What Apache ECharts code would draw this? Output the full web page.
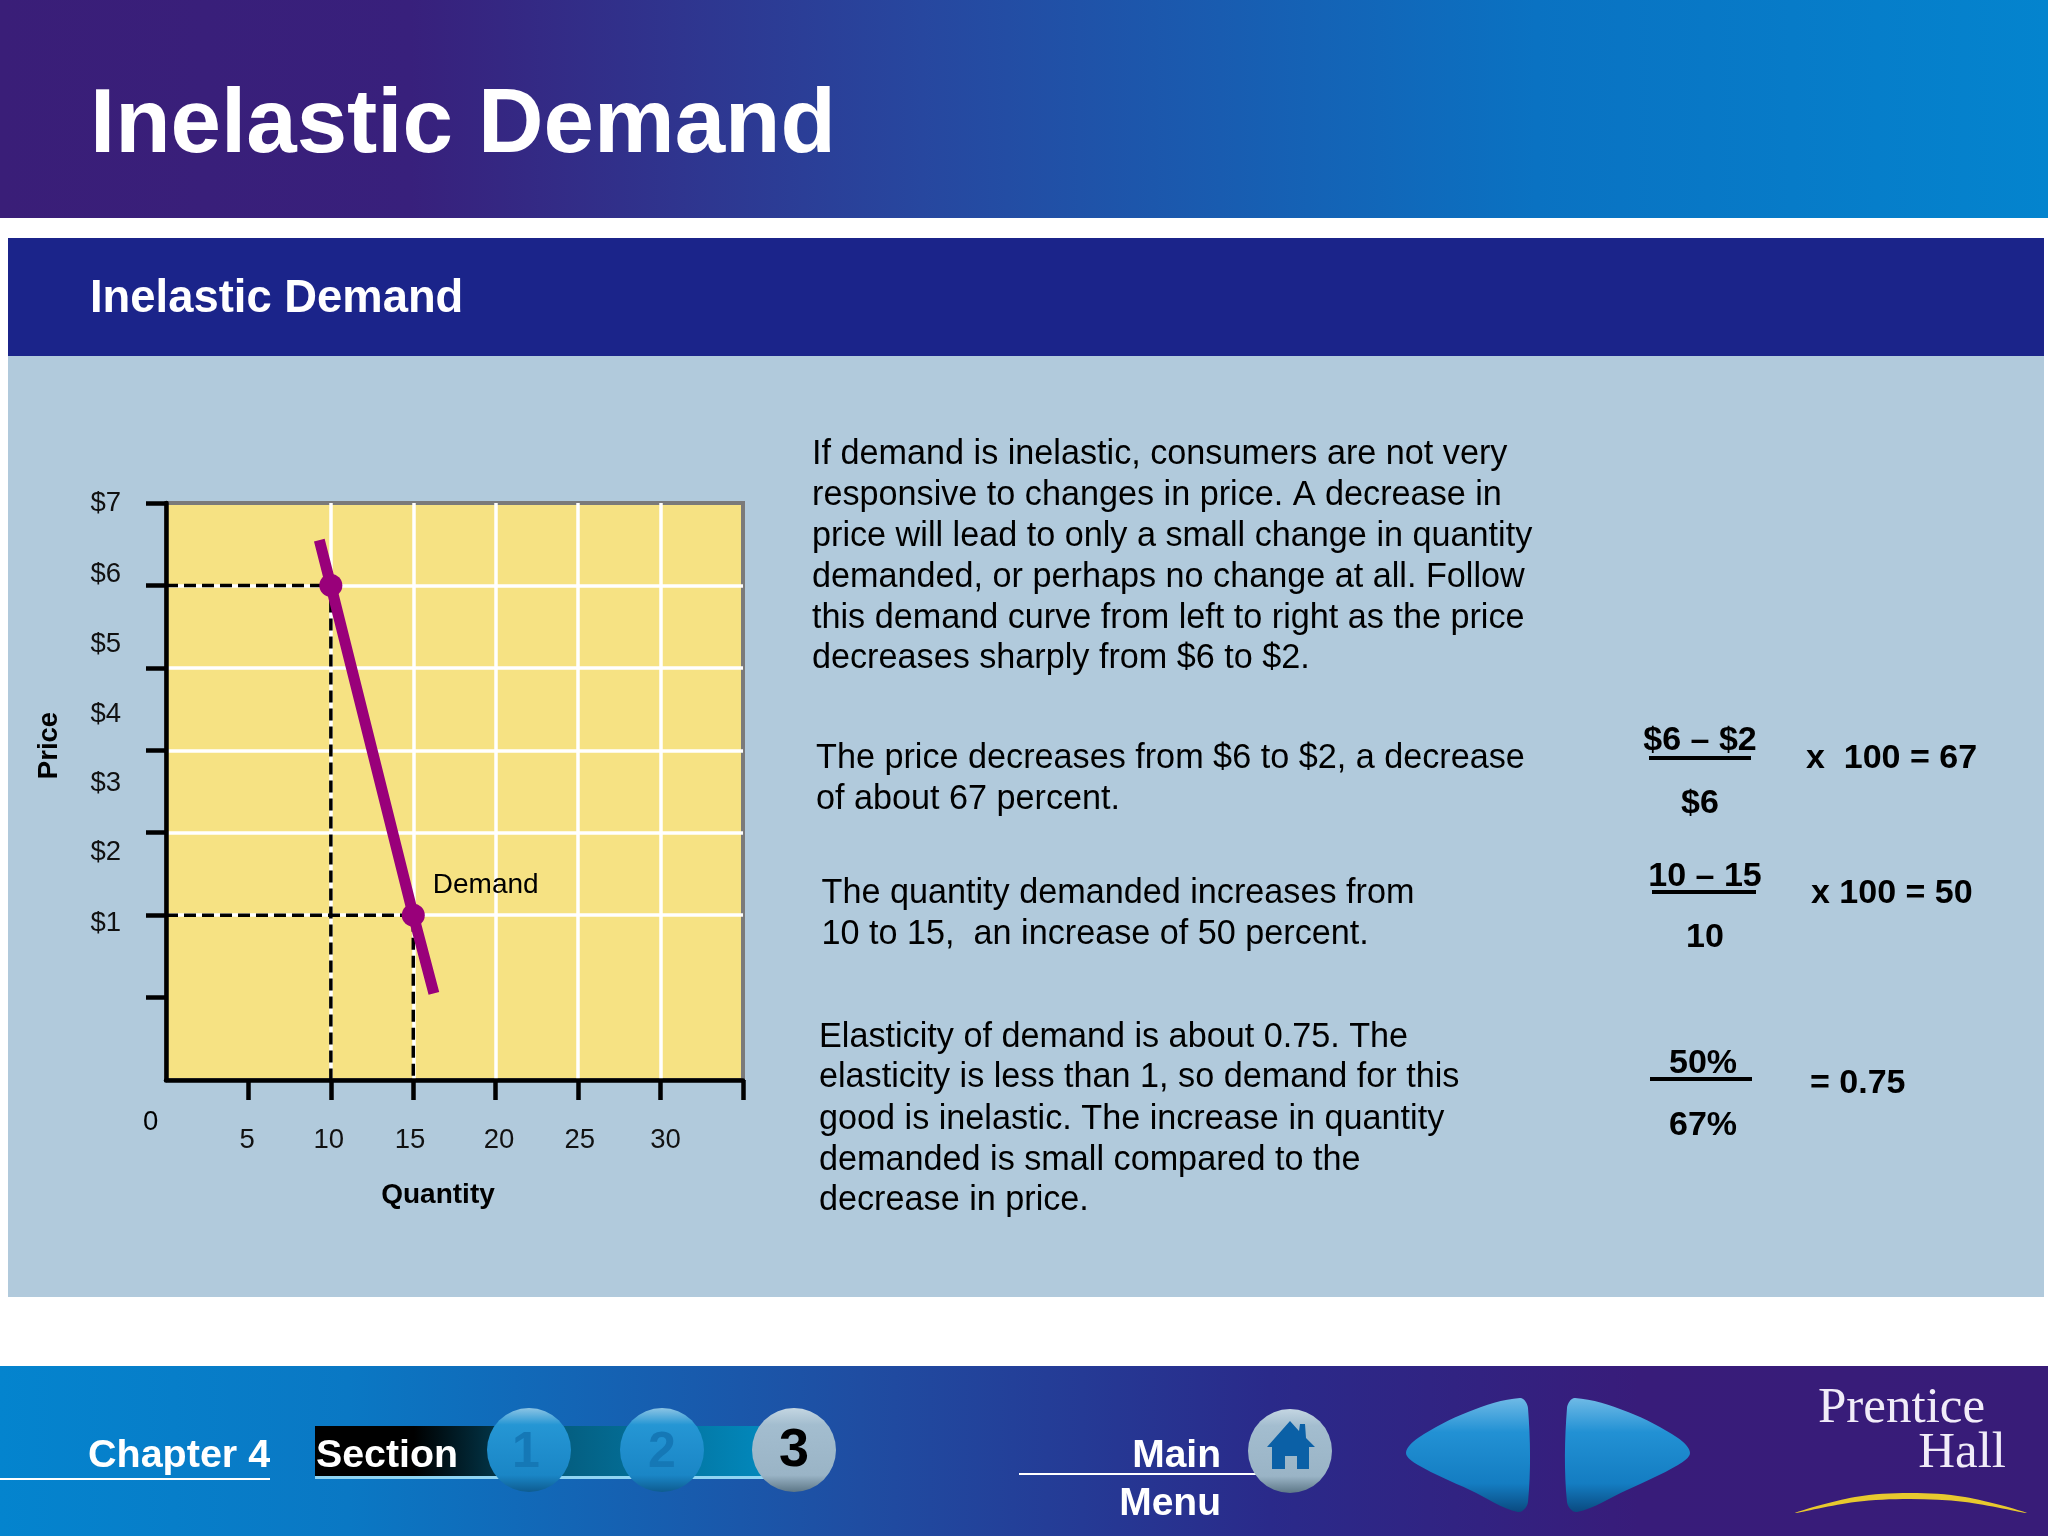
<!DOCTYPE html>
<html>
<head>
<meta charset="utf-8">
<title>Inelastic Demand</title>
<script src="https://cdn.jsdelivr.net/npm/echarts@6/dist/echarts.min.js"></script>
<style>
html, body { margin: 0; padding: 0; background: #fff; }
#chart { width: 2048px; height: 1536px; }
</style>
</head>
<body>
<div id="chart"></div>
<script>
// chart values
var demandCurve = [ [ 9.3, 6.55 ], [ 10, 6 ], [ 15, 2 ], [ 16.25, 1.05 ] ];
var demandPoints = [ [ 10, 6 ], [ 15, 2 ] ];
var guideHigh = [ [ 0, 6 ], [ 10, 6 ], [ 10, 0 ] ];
var guideLow = [ [ 0, 2 ], [ 15, 2 ], [ 15, 0 ] ];

// the printed tick labels do not sit on the grid lines in the slide
var priceLabels = [ '$7', '$6', '$5', '$4', '$3', '$2', '$1' ];
var priceLabelSpots = [ 7, 6.13, 5.28, 4.44, 3.6, 2.76, 1.9 ];
var quantityLabels = [ '5', '10', '15', '20', '25', '30' ];
var quantityLabelSpots = [ 4.92, 9.87, 14.8, 20.2, 25.1, 30.3 ];

// slide texts
var paragraphOne = [
	'If demand is inelastic, consumers are not very',
	'responsive to changes in price. A decrease in',
	'price will lead to only a small change in quantity',
	'demanded, or perhaps no change at all. Follow',
	'this demand curve from left to right as the price',
	'decreases sharply from $6 to $2.'
];
var paragraphTwo = [ 'The price decreases from $6 to $2, a decrease', 'of about 67 percent.' ];
var paragraphThree = [ 'The quantity demanded increases from', '10 to 15,  an increase of 50 percent.' ];
var paragraphFour = [
	'Elasticity of demand is about 0.75. The',
	'elasticity is less than 1, so demand for this',
	'good is inelastic. The increase in quantity',
	'demanded is small compared to the',
	'decrease in price.'
];

var sans = '"Liberation Sans", Arial, sans-serif';
var grad = echarts.graphic.LinearGradient;

function label(str, x, y, size, opt) {
	opt = opt || {};
	return {
		type : 'text',
		z : opt.z || 5,
		style : {
			text : str,
			x : x,
			y : y + 3,
			fill : opt.fill || '#000',
			font : (opt.bold ? 'bold ' : '') + size + 'px ' + (opt.family || sans),
			textAlign : opt.align || 'left',
			textVerticalAlign : 'middle'
		}
	};
}

function box(x, y, w, h, fill, z) {
	return {
		type : 'rect',
		z : z || -5,
		shape : { x : x, y : y, width : w, height : h },
		style : { fill : fill }
	};
}

function blob(points, fill) {
	return {
		type : 'polygon',
		z : 2,
		shape : { points : points, smooth : 0.35 },
		style : { fill : fill }
	};
}

function paragraph(lines, x, ys) {
	return lines.map(function(line, i) {
		return label(line, x, ys[i], 34.2);
	});
}

function button(cx, cy, light) {
	var stops = light ? [
		{ offset : 0, color : '#C4D6E2' },
		{ offset : 0.2, color : '#A3BDCF' },
		{ offset : 0.8, color : '#9AB4C6' },
		{ offset : 1, color : '#5D7787' }
	] : [
		{ offset : 0, color : '#8CC4E4' },
		{ offset : 0.2, color : '#2596D4' },
		{ offset : 0.8, color : '#1A86C6' },
		{ offset : 1, color : '#0E5C90' }
	];
	return {
		type : 'circle',
		z : 2,
		shape : { cx : cx, cy : cy, r : 42 },
		style : { fill : new grad(0, 0, 0, 1, stops) }
	};
}

var arrowFill = new grad(0, 0, 0, 1, [
	{ offset : 0, color : '#6FBAE6' },
	{ offset : 0.3, color : '#2291D4' },
	{ offset : 0.75, color : '#147DC2' },
	{ offset : 1, color : '#0A4A80' }
]);

var elements = [
	// banners and panel
	box(0, 0, 2048, 218, new grad(0, 0, 1, 0, [
		{ offset : 0, color : '#3A1E78' },
		{ offset : 0.2, color : '#38207C' },
		{ offset : 0.45, color : '#27479F' },
		{ offset : 0.75, color : '#0A72C2' },
		{ offset : 1, color : '#0484CE' }
	])),
	box(8, 238, 2036, 118, '#1B248A'),
	box(8, 356, 2036, 941, '#B1CADC'),
	box(0, 1366, 2048, 170, new grad(0, 0, 1, 0, [
		{ offset : 0, color : '#0484CE' },
		{ offset : 0.17, color : '#0A78C4' },
		{ offset : 0.42, color : '#1F4DA2' },
		{ offset : 0.62, color : '#2A2A8A' },
		{ offset : 0.8, color : '#381C7A' },
		{ offset : 1, color : '#381C78' }
	])),
	label('Inelastic Demand', 90, 124, 90.7, { bold : true, fill : '#fff' }),
	label('Inelastic Demand', 90, 296, 45.4, { bold : true, fill : '#fff' }),

	// chart extras
	label('0', 143, 1119, 27.5),

	// fractions
	label('$6 – $2', 1700, 738, 34, { bold : true, align : 'center' }),
	box(1649, 756, 102, 4, '#000', 5),
	label('$6', 1700, 801, 34, { bold : true, align : 'center' }),
	label('x  100 = 67', 1806, 756, 34, { bold : true }),
	label('10 – 15', 1705, 874, 34, { bold : true, align : 'center' }),
	box(1652, 890, 104, 4, '#000', 5),
	label('10', 1705, 935, 34, { bold : true, align : 'center' }),
	label('x 100 = 50', 1811, 891, 34, { bold : true }),
	label('50%', 1703, 1061, 34, { bold : true, align : 'center' }),
	box(1650, 1077, 102, 4, '#000', 5),
	label('67%', 1703, 1123, 34, { bold : true, align : 'center' }),
	label('= 0.75', 1810, 1081, 34, { bold : true }),

	// footer navigation
	label('Chapter 4', 88, 1453, 39.5, { bold : true, fill : '#fff' }),
	box(0, 1478, 270, 2, '#fff', 1),
	box(315, 1426, 449, 50, new grad(0, 0, 1, 0, [
		{ offset : 0, color : '#000' },
		{ offset : 0.22, color : '#000' },
		{ offset : 0.55, color : '#045E80' },
		{ offset : 1, color : '#0288BC' }
	]), 1),
	box(315, 1476, 449, 3, '#8FD4F2', 1),
	label('Section', 316, 1453, 39.3, { bold : true, fill : '#fff' }),
	button(529, 1450, false),
	label('1', 526, 1450, 50, { bold : true, fill : '#1578B6', align : 'center' }),
	button(662, 1450, false),
	label('2', 662, 1450, 50, { bold : true, fill : '#1578B6', align : 'center' }),
	button(794, 1450, true),
	label('3', 794, 1448, 54, { bold : true, align : 'center' }),
	label('Main', 1221, 1453, 39, { bold : true, fill : '#fff', align : 'right' }),
	box(1019, 1473, 237, 2, '#fff', 1),
	label('Menu', 1221, 1501, 39, { bold : true, fill : '#fff', align : 'right' }),
	button(1290, 1451, true),
	{
		type : 'polygon',
		z : 3,
		shape : {
			points : [ [ 1290, 1421 ], [ 1299, 1431 ], [ 1300, 1424 ], [ 1305, 1424 ], [ 1306, 1438 ], [ 1315, 1447 ], [ 1309, 1447 ],
				[ 1309, 1469 ], [ 1297, 1469 ], [ 1297, 1456 ], [ 1285, 1456 ], [ 1285, 1469 ], [ 1272, 1469 ], [ 1272, 1447 ], [ 1267, 1447 ] ]
		},
		style : { fill : '#0B60A6' }
	},
	blob([ [ 1520, 1398 ], [ 1528, 1408 ], [ 1528, 1502 ], [ 1518, 1512 ], [ 1470, 1490 ], [ 1418, 1465 ], [ 1406, 1453 ], [ 1418, 1438 ], [ 1468, 1412 ] ], arrowFill),
	blob([ [ 1575, 1398 ], [ 1567, 1408 ], [ 1567, 1502 ], [ 1577, 1512 ], [ 1627, 1490 ], [ 1678, 1465 ], [ 1690, 1453 ], [ 1678, 1438 ], [ 1628, 1412 ] ], arrowFill),
	label('Prentice', 1818, 1406, 51, { family : '"Liberation Serif", serif', fill : '#F1ECF8' }),
	label('Hall', 2006, 1451, 51, { family : '"Liberation Serif", serif', fill : '#F1ECF8', align : 'right' }),
	blob([ [ 1795, 1513 ], [ 1855, 1497 ], [ 1910, 1493 ], [ 1965, 1497 ], [ 2027, 1513 ], [ 1965, 1502 ], [ 1910, 1499 ], [ 1855, 1502 ] ], '#E8C92E')
];

elements = elements.concat(
	paragraph(paragraphOne, 812, [ 452, 493, 534, 575, 616, 656 ]),
	paragraph(paragraphTwo, 816, [ 756, 797 ]),
	paragraph(paragraphThree, 821.5, [ 891, 932 ]),
	paragraph(paragraphFour, 819, [ 1035, 1075, 1117, 1158, 1198 ])
);

var chart = echarts.init(document.getElementById('chart'));
var option = {
	animation : false,
	backgroundColor : '#fff',
	textStyle : { fontFamily : sans },
	graphic : { elements : elements },
	grid : {
		left : 166,
		top : 503,
		width : 577,
		height : 577,
		show : true,
		backgroundColor : '#F6E283',
		borderColor : '#7A7A7A',
		borderWidth : 4
	},
	xAxis : {
		type : 'value',
		min : 0,
		max : 35,
		interval : 5,
		name : 'Quantity',
		nameLocation : 'middle',
		nameGap : 101,
		nameTextStyle : { color : '#000', fontWeight : 'bold', fontSize : 28, padding : [ 0, 33, 0, 0 ] },
		axisLine : { lineStyle : { color : '#000', width : 4.5 } },
		axisTick : { length : 20, lineStyle : { color : '#000', width : 4.5 }, customValues : [ 5, 10, 15, 20, 25, 30, 35 ] },
		axisLabel : {
			color : '#111',
			fontSize : 27.5,
			margin : 46,
			customValues : quantityLabelSpots,
			formatter : function(v) {
				return quantityLabels[quantityLabelSpots.indexOf(v)];
			}
		},
		splitLine : { show : true, showMinLine : false, showMaxLine : false, lineStyle : { color : '#fff', width : 3.5 } }
	},
	yAxis : {
		type : 'value',
		min : 0,
		max : 7,
		interval : 1,
		name : 'Price',
		nameLocation : 'middle',
		nameGap : 103,
		nameTextStyle : { color : '#000', fontWeight : 'bold', fontSize : 27.5, padding : [ 0, 0, 0, 92 ] },
		axisLine : { lineStyle : { color : '#000', width : 4.5 } },
		axisTick : { length : 20, lineStyle : { color : '#000', width : 4.5 }, customValues : [ 1, 2, 3, 4, 5, 6, 7 ] },
		axisLabel : {
			color : '#111',
			fontSize : 27.5,
			margin : 45,
			customValues : priceLabelSpots,
			formatter : function(v) {
				return priceLabels[priceLabelSpots.indexOf(v)];
			}
		},
		splitLine : { show : true, showMinLine : false, showMaxLine : false, lineStyle : { color : '#fff', width : 3.5 } }
	},
	series : [ {
		name : 'guide high',
		type : 'line',
		data : guideHigh,
		symbol : 'none',
		lineStyle : { color : '#000', width : 3.5, type : [ 12, 6 ] }
	}, {
		name : 'guide low',
		type : 'line',
		data : guideLow,
		symbol : 'none',
		lineStyle : { color : '#000', width : 3.5, type : [ 12, 6 ] }
	}, {
		name : 'Demand',
		type : 'line',
		data : demandCurve,
		symbol : 'none',
		z : 3,
		lineStyle : { color : '#99007A', width : 11, cap : 'butt' }
	}, {
		name : 'points',
		type : 'scatter',
		data : demandPoints,
		symbolSize : 23,
		z : 4,
		itemStyle : { color : '#99007A', opacity : 1 },
		label : {
			show : true,
			position : 'right',
			distance : 8,
			offset : [ 0, -30 ],
			color : '#000',
			fontSize : 28,
			formatter : function(p) {
				return p.dataIndex === 1 ? 'Demand' : '';
			}
		}
	} ]
};
chart.setOption(option);
</script>
</body>
</html>
